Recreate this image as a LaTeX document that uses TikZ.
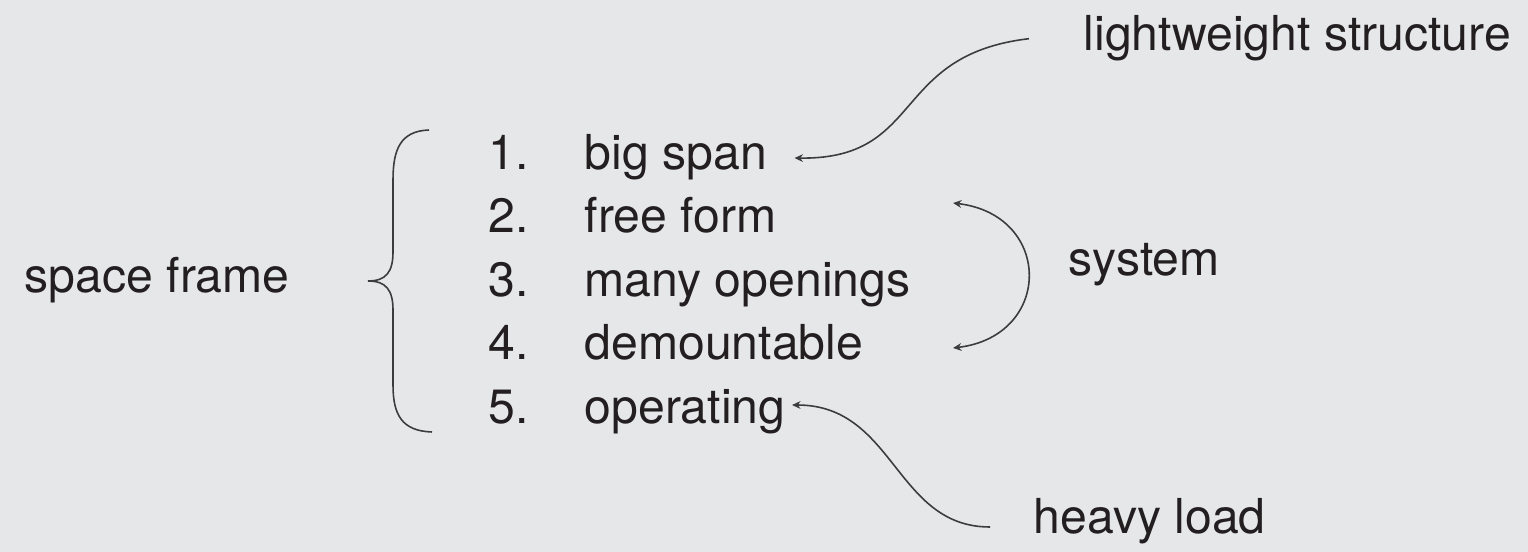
\documentclass[tikz,border=0pt]{standalone}
\usepackage{fontspec}
\setmainfont{TeX Gyre Heros}
\usetikzlibrary{positioning}
\usetikzlibrary{arrows.meta}
\definecolor{bggray}{HTML}{E6E7E9}
\definecolor{inkgray}{HTML}{231F20}
\definecolor{linegray}{HTML}{3C3C3C}

\begin{document}
\begin{tikzpicture}[
        x=0.01cm, y=-0.01cm,
        >={Stealth[length=2.4pt,width=2.2pt]},
        lbl/.style={inner sep=0pt, anchor=base west, text=inkgray,
                    font=\fontsize{13.7}{16}\selectfont},
        link/.style={draw=linegray, line width=0.45pt}
    ]
    \fill[bggray] (0,0) rectangle (1528,552);
    \useasboundingbox (0,0) rectangle (1528,552);

    % ------- numbered list -------
    \node[lbl] (n1) at (488,170) {1.};
    \node[lbl] (n2) at (488,233) {2.};
    \node[lbl] (n3) at (488,297) {3.};
    \node[lbl] (n4) at (488,360) {4.};
    \node[lbl] (n5) at (488,423) {5.};

    \node[lbl] (i1) at (584,170) {big span};
    \node[lbl] (i2) at (584,233) {free form};
    \node[lbl] (i3) at (584,297) {many openings};
    \node[lbl] (i4) at (584,360) {demountable};
    \node[lbl] (i5) at (584,423) {operating};

    % ------- left label and brace -------
    \node[lbl] (frame) at (24,293) {space frame};
    \coordinate (tip) at (368,281);
    \draw[link] (429,130) .. controls (400,131) and (393,150) .. (393,180)
        -- (393,252) .. controls (393,272) and (386,281) .. (tip)
        .. controls (386,281) and (393,290) .. (393,310)
        -- (393,385) .. controls (393,415) and (402,431) .. (432,432);

    % ------- right labels -------
    \node[lbl] (light) at (1083,51) {lightweight structure};
    \node[lbl] (sys)   at (1068,276) {system};
    \node[lbl] (heavy) at (1033,533) {heavy load};

    % arrow ends next to the list
    \coordinate (lightfoot) at ([xshift=-0.54cm]light.west);
    \coordinate (spanend)   at ([xshift=0.27cm]i1.east);
    \coordinate (formend)   at (953,203);
    \coordinate (mountend)  at (953,348);
    \coordinate (heavyfoot) at (990,527);
    \coordinate (operend)   at ([xshift=0.06cm]i5.north east);

    \draw[link,->] (lightfoot) .. controls (890,55) and (925,160) .. (spanend |- 0,158);
    \draw[link,<->] (formend) .. controls (1053,215) and (1053,336) .. (mountend);
    \draw[link,->] (heavyfoot) .. controls (895,527) and (895,405) .. (operend |- 0,405);

\end{tikzpicture}
\end{document}
